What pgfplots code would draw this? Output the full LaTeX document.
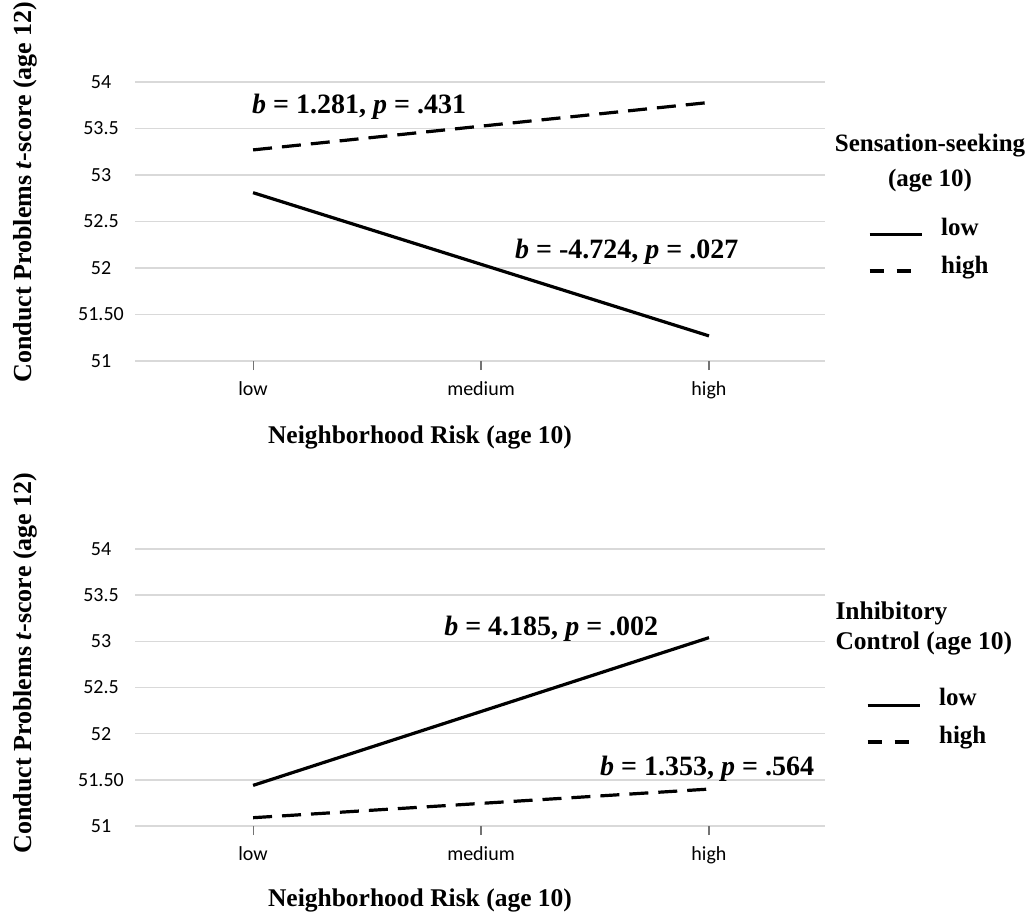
\documentclass[border=0pt]{standalone}
\usepackage{fontspec}
\setmainfont{Liberation Serif}
\newfontfamily\calibri{Carlito}
\usepackage{pgfplots}
\pgfplotsset{compat=1.18}
\definecolor{gridgray}{RGB}{217,217,217}
\pgfplotsset{
  panel/.style={
    scale only axis, width=690pt,
    xmin=-0.518, xmax=2.509,
    ymin=51, ymax=54,
    ytick={51,51.5,52,52.5,53,53.5,54},
    yticklabels={51,51.50,52,52.5,53,53.5,54},
    xtick={0,1,2}, xticklabels={low,medium,high},
    ymajorgrids, grid style={gridgray, line width=1.5pt},
    axis line style={draw=none},
    ytick style={draw=none},
    xtick style={draw=black!55, line width=1.1pt},
    tick align=outside, major tick length=9pt, xtick pos=bottom,
    ticklabel style={font=\calibri\fontsize{20}{24}\selectfont},
    yticklabel style={anchor=center, xshift=-25pt},
    xticklabel style={yshift=-8pt},
    clip=false,
    legend style={draw=none, fill=none, inner sep=0pt,
      font=\bfseries\fontsize{25}{30}\selectfont,
      row sep=16pt, legend cell align=left},
  },
  sline/.style={black, line width=3.2pt, solid},
  dline/.style={black, line width=3.2pt, dash pattern=on 19pt off 10pt},
}
\tikzset{annot/.style={font=\bfseries\fontsize{28}{32}\selectfont, inner sep=0pt},
  lab/.style={font=\bfseries\fontsize{25.5}{30}\selectfont}}
\begin{document}
\begin{tikzpicture}
\useasboundingbox (0,0) rectangle (1033pt,-919pt);
% ---------- top panel ----------
\begin{axis}[panel, name=top, at={(135pt,-361pt)}, anchor=south west, height=279pt,
  legend style={at={(axis description cs:1.062,0.41)}, anchor=west}]
\addplot[sline, forget plot] coordinates {(0,52.81) (1,52.04) (2,51.27)};
\addplot[dline, forget plot] coordinates {(0,53.27) (1,53.525) (2,53.78)};
\addlegendimage{legend image code/.code={\draw[black, line width=3.2pt] (0pt,-7pt) -- (52pt,-7pt);}}
\addlegendentry{\hspace{16pt}low}
\addlegendimage{legend image code/.code={\draw[black, line width=3.2pt, dash pattern=on 14pt off 13pt] (0pt,-5pt) -- (42pt,-5pt);}}
\addlegendentry{\hspace{16pt}high}
\node[annot, anchor=base west] at (axis cs:-0.005,53.66) {\textit{b} = 1.281, \textit{p} = .431};
\node[annot, anchor=base west] at (axis cs:1.149,52.106) {\textit{b} = -4.724, \textit{p} = .027};
\end{axis}
\node[lab, font=\bfseries\fontsize{25}{35}\selectfont, align=center] at (930pt,-163pt) {Sensation-seeking\\(age 10)};
\node[lab, font=\bfseries\fontsize{26}{30}\selectfont, rotate=90] at (25pt,-192pt) {Conduct Problems \textit{t}-score (age 12)};
\node[lab] at (420pt,-437pt) {Neighborhood Risk (age 10)};
% ---------- bottom panel ----------
\begin{axis}[panel, name=bot, at={(135pt,-826pt)}, anchor=south west, height=277pt,
  legend style={at={(axis description cs:1.059,0.395)}, anchor=west}]
\addplot[sline, forget plot] coordinates {(0,51.44) (1,52.24) (2,53.04)};
\addplot[dline, forget plot] coordinates {(0,51.09) (1,51.245) (2,51.40)};
\addlegendimage{legend image code/.code={\draw[black, line width=3.2pt] (0pt,-8pt) -- (52pt,-8pt);}}
\addlegendentry{\hspace{16pt}low}
\addlegendimage{legend image code/.code={\draw[black, line width=3.2pt, dash pattern=on 14pt off 13pt] (0pt,-6pt) -- (42pt,-6pt);}}
\addlegendentry{\hspace{16pt}high}
\node[annot, anchor=base west] at (axis cs:0.838,53.06) {\textit{b} = 4.185, \textit{p} = .002};
\node[annot, anchor=base west] at (axis cs:1.522,51.55) {\textit{b} = 1.353, \textit{p} = .564};
\end{axis}
\node[lab, align=left, anchor=west] at (832pt,-628pt) {Inhibitory\\Control (age 10)};
\node[lab, font=\bfseries\fontsize{26}{30}\selectfont, rotate=90] at (25pt,-663pt) {Conduct Problems \textit{t}-score (age 12)};
\node[lab] at (420pt,-900pt) {Neighborhood Risk (age 10)};
\end{tikzpicture}
\end{document}
